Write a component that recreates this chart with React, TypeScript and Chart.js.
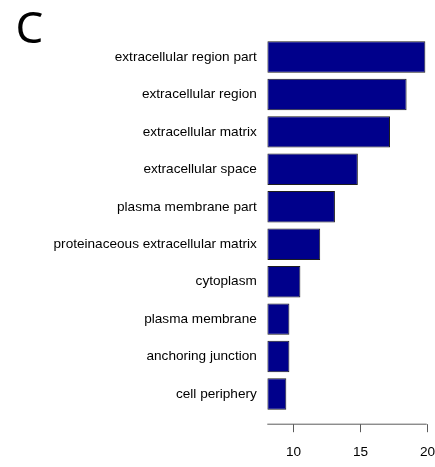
import React, { useEffect, useRef } from "react";
import { Chart, registerables } from "chart.js";

Chart.register(...registerables);

const CATEGORIES = [
  "extracellular region part",
  "extracellular region",
  "extracellular matrix",
  "extracellular space",
  "plasma membrane part",
  "proteinaceous extracellular matrix",
  "cytoplasm",
  "plasma membrane",
  "anchoring junction",
  "cell periphery",
];
const VALUES = [19.9, 18.5, 17.26, 14.86, 13.15, 12.05, 10.57, 9.75, 9.75, 9.52];
const X_MIN = 8.1;
const X_MAX = 20;
const X_TICKS = [10, 15, 20];
const PANEL_LABEL = "C";

const LABEL_FONT = "Liberation Sans, Arial, sans-serif";

const axisPlugin = {
  id: "customAxis",
  afterDraw(chart: any) {
    const ctx = chart.ctx;
    const xs = chart.scales.x;
    const axisY = chart.chartArea.bottom + 11.5;
    ctx.save();
    ctx.strokeStyle = "#5a5a5a";
    ctx.lineWidth = 1;
    ctx.beginPath();
    ctx.moveTo(xs.getPixelForValue(X_MIN), axisY);
    ctx.lineTo(xs.getPixelForValue(X_MAX), axisY);
    ctx.stroke();
    ctx.fillStyle = "#000";
    ctx.font = `13.6px ${LABEL_FONT}`;
    ctx.textAlign = "center";
    ctx.textBaseline = "middle";
    for (const t of X_TICKS) {
      const px = Math.round(xs.getPixelForValue(t)) + 0.5;
      ctx.beginPath();
      ctx.moveTo(px, axisY);
      ctx.lineTo(px, axisY + 8);
      ctx.stroke();
      ctx.fillText(String(t), px, axisY + 28);
    }
    ctx.fillStyle = "#000";
    ctx.font = `44px "Noto Sans", sans-serif`;
    ctx.textAlign = "left";
    ctx.textBaseline = "alphabetic";
    ctx.fillText(PANEL_LABEL, 15.5, 42.5);
    ctx.restore();
  },
};

export default function App() {
  const ref = useRef<HTMLCanvasElement>(null);
  useEffect(() => {
    const chart = new Chart(ref.current!, {
      type: "bar",
      data: {
        labels: CATEGORIES,
        datasets: [
          {
            data: VALUES,
            base: X_MIN,
            backgroundColor: "#00008B",
            borderColor: "#1e1e1e",
            borderWidth: 1,
            borderSkipped: false,
            barPercentage: 0.84,
            categoryPercentage: 1,
          } as any,
        ],
      },
      options: {
        indexAxis: "y",
        animation: false,
        responsive: false,
        events: [],
        layout: { padding: { left: 0, right: 8.3, top: 38.3, bottom: 54.3 } },
        plugins: { legend: { display: false }, tooltip: { enabled: false } },
        scales: {
          x: {
            display: false,
            min: X_MIN,
            max: X_MAX,
          },
          y: {
            afterFit: (s: any) => {
              s.width = 267.3;
            },
            grid: { display: false, drawTicks: false },
            border: { display: false },
            ticks: {
              padding: 10.5,
              color: "#000",
              font: { family: LABEL_FONT, size: 13.6 },
              autoSkip: false,
            },
          },
        },
      },
      plugins: [axisPlugin],
    });
    return () => chart.destroy();
  }, []);
  return (
    <div style={{ position: "absolute", left: 0, top: 0, width: 435, height: 467, background: "#fff" }}>
      <canvas ref={ref} width={435} height={467} style={{ display: "block" }} />
    </div>
  );
}
